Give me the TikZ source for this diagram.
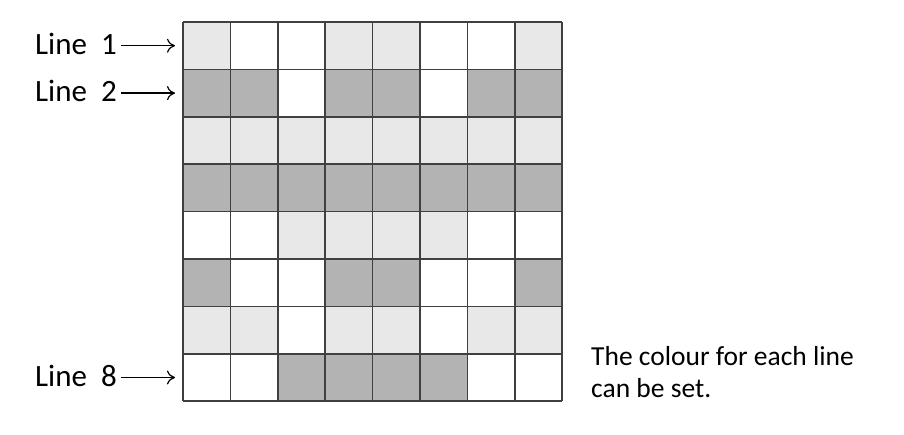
\documentclass[tikz,border=0pt]{standalone}
\usepackage{fontspec}
\setmainfont{Carlito}
\usetikzlibrary{arrows.meta}
\definecolor{lightc}{HTML}{E8E8E8}
\definecolor{darkc}{HTML}{B3B3B3}
\definecolor{gridc}{HTML}{404040}
\begin{document}
\begin{tikzpicture}[x=1pt,y=-1pt,
  lbl/.style={font=\fontsize{31}{34}\selectfont, anchor=base west, inner sep=0pt},
  note/.style={font=\fontsize{27.5}{30}\selectfont, anchor=north west, inner sep=0pt, align=left},
  ptr/.style={-{To[length=8pt,width=14pt]}, line width=1.2pt},
  gridline/.style={draw=gridc, line width=1.5pt}]
\useasboundingbox (0,0) rectangle (904,435);
\def\cw{47.4}
\foreach \row [count=\r from 0] in {{L,W,W,L,L,W,W,L},{D,D,W,D,D,W,D,D},{L,L,L,L,L,L,L,L},{D,D,D,D,D,D,D,D},{W,W,L,L,L,L,W,W},{D,W,W,D,D,W,W,D},{L,L,W,L,L,W,L,L},{W,W,D,D,D,D,W,W}}{
  \foreach \c [count=\k from 0] in \row {
    \if\c L\def\fc{lightc}\fi
    \if\c D\def\fc{darkc}\fi
    \if\c W\def\fc{white}\fi
    \fill[\fc] ({183+\k*\cw},{22+\r*\cw}) rectangle ++(\cw,\cw);
  }
}
\foreach \i in {0,...,8}{
  \draw[gridline] ({183+\i*\cw},22) -- ({183+\i*\cw},{22+8*\cw});
  \draw[gridline] (183,{22+\i*\cw}) -- ({183+8*\cw},{22+\i*\cw});
}
\node[lbl] (l1) at (35,55) {Line\ \ 1};
\node[lbl] (l2) at (35,102) {Line\ \ 2};
\node[lbl] (l8) at (35,386) {Line\ \ 8};
\coordinate (e1) at (175,45.7);
\coordinate (e2) at (175,93.1);
\coordinate (e8) at (175,377.5);
\draw[ptr] (l1.east |- e1) ++(4,0) -- (e1);
\draw[ptr] (l2.east |- e2) ++(4,0) -- (e2);
\draw[ptr] (l8.east |- e8) ++(4,0) -- (e8);
\node[note] (nt) at (591,346) {The colour for each line\\[2pt]can be set.};
\end{tikzpicture}
\end{document}
